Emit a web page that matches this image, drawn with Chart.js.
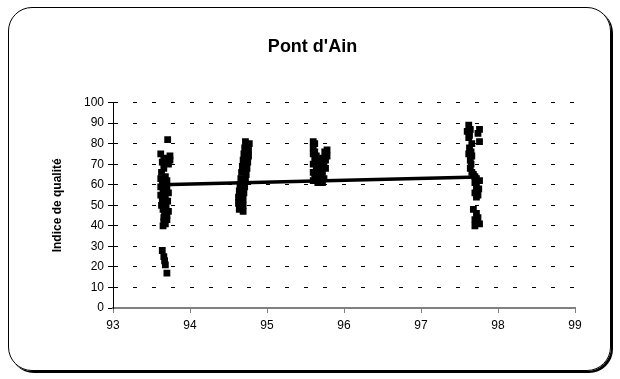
<!DOCTYPE html>
<html>
<head>
<meta charset="utf-8">
<script src="https://cdn.jsdelivr.net/npm/chart.js@4/dist/chart.umd.min.js"></script>
<style>
  html, body { margin: 0; padding: 0; background: #fff; }
  #wrap { position: relative; width: 620px; height: 379px; }
  #frame {
    position: absolute; left: 8px; top: 7px; width: 601px; height: 362px;
    border: 1px solid #000; border-radius: 24px; box-shadow: 2px 2px 0 #000;
    pointer-events: none;
  }
  canvas { position: absolute; left: 0; top: 0; }
</style>
</head>
<body>
<div id="wrap">
  <canvas id="chart" width="620" height="379"></canvas>
  <div id="frame"></div>
</div>
<script>
const title = "Pont d'Ain";
const yTitle = 'Indice de qualité';
const xTicks = [93, 94, 95, 96, 97, 98, 99];
const yTicks = [0, 10, 20, 30, 40, 50, 60, 70, 80, 90, 100];

// measurements (year, index), one pair of arrays per sampling campaign
const yearsA = [93.71, 93.62, 93.74, 93.66, 93.74, 93.64, 93.72, 93.66, 93.63, 93.68, 93.62, 93.7, 93.64, 93.67, 93.62, 93.7, 93.65, 93.72, 93.62, 93.68, 93.64, 93.71, 93.66, 93.63, 93.69, 93.65, 93.72, 93.67, 93.7, 93.66, 93.7, 93.66, 93.68, 93.65, 93.64, 93.66, 93.67, 93.68, 93.7];
const valuesA = [82, 75, 74, 73, 72, 71, 70, 68, 66, 64, 63, 62, 61, 60, 59, 58, 57, 56, 55, 54, 53, 52, 51, 50, 49, 48, 47, 46, 45, 44, 43, 42, 41, 40, 28, 25, 23, 21, 17];

const yearsB = [94.72, 94.77, 94.71, 94.76, 94.7, 94.76, 94.69, 94.75, 94.68, 94.74, 94.67, 94.73, 94.66, 94.72, 94.65, 94.71, 94.64, 94.7, 94.63, 94.69, 94.63, 94.69, 94.64, 94.69];
const valuesB = [81, 80, 78, 77, 75, 74, 72, 71, 69, 68, 66, 65, 63, 62, 60, 59, 57, 56, 54, 53, 51, 50, 48, 47];

const yearsC = [95.6, 95.62, 95.6, 95.78, 95.62, 95.75, 95.6, 95.78, 95.64, 95.72, 95.62, 95.76, 95.66, 95.74, 95.6, 95.7, 95.64, 95.76, 95.68, 95.72, 95.6, 95.66, 95.7, 95.62, 95.74, 95.64, 95.68, 95.6, 95.66, 95.72];
const valuesC = [81, 80, 78, 77, 76, 76, 75, 74, 74, 73, 72, 72, 71, 70, 70, 69, 68, 68, 67, 66, 66, 65, 64, 64, 63, 63, 62, 62, 61, 61];

const yearsD = [97.62, 97.64, 97.76, 97.6, 97.74, 97.63, 97.62, 97.76, 97.66, 97.63, 97.65, 97.62, 97.66, 97.64, 97.65, 97.64, 97.66, 97.68, 97.7, 97.72, 97.76, 97.7, 97.72, 97.75, 97.7, 97.74, 97.72, 97.68, 97.72, 97.74, 97.7, 97.72, 97.76, 97.7];
const valuesD = [89, 87, 87, 86, 85, 84, 83, 81, 80, 78, 76, 75, 74, 72, 70, 68, 66, 65, 64, 63, 62, 61, 59, 58, 56, 55, 54, 48, 46, 44, 43, 42, 41, 40];

// trend line end points
const trendYears = [93.62, 97.75];
const trendValues = [60, 63.8];

const pts = (xs, ys) => xs.map((x, i) => ({ x: x, y: ys[i] }));
const allPoints = [].concat(pts(yearsA, valuesA), pts(yearsB, valuesB), pts(yearsC, valuesC), pts(yearsD, valuesD));

const font = 'Liberation Sans, Arial, sans-serif';

new Chart(document.getElementById('chart'), {
  type: 'scatter',
  data: {
    datasets: [{
      label: 'Indice',
      data: allPoints,
      pointStyle: 'rect',
      pointRadius: 4.8,
      pointBackgroundColor: '#000',
      pointBorderColor: '#000',
      pointBorderWidth: 0,
      order: 2
    }, {
      label: 'Tendance',
      type: 'line',
      data: pts(trendYears, trendValues),
      borderColor: '#000',
      borderWidth: 3.5,
      pointRadius: 0,
      fill: false,
      order: 1
    }]
  },
  options: {
    responsive: false,
    animation: false,
    layout: { padding: { left: 50, right: 45, top: 0, bottom: 0 } },
    plugins: {
      legend: { display: false },
      tooltip: { enabled: false },
      title: {
        display: true,
        text: title,
        color: '#000',
        font: { family: font, size: 18, weight: 'bold' },
        padding: { top: 36, bottom: 45 }
      }
    },
    scales: {
      x: {
        type: 'linear',
        min: 93, max: 99,
        afterBuildTicks: s => { s.ticks = xTicks.map(v => ({ value: v })); },
        afterFit: s => { s.height = 71; },
        grid: { drawOnChartArea: false, drawTicks: true, tickLength: 5, color: '#808080', lineWidth: 1 },
        border: { display: true, color: '#808080', width: 2 },
        ticks: { color: '#000', font: { family: font, size: 12 }, padding: 5, maxRotation: 0 }
      },
      y: {
        min: 0, max: 100,
        afterBuildTicks: s => { s.ticks = yTicks.map(v => ({ value: v })); },
        afterFit: s => { s.width = 63; },
        grid: { color: '#000', lineWidth: 1, tickLength: 5 },
        border: { display: true, color: '#000', width: 1, dash: [4, 15] },
        ticks: { color: '#000', font: { family: font, size: 12 }, padding: 4 },
        title: {
          display: true,
          text: yTitle,
          color: '#000',
          font: { family: font, size: 12, weight: 'bold' },
          padding: { top: 0, bottom: 0 }
        }
      }
    }
  }
});
</script>
</body>
</html>
